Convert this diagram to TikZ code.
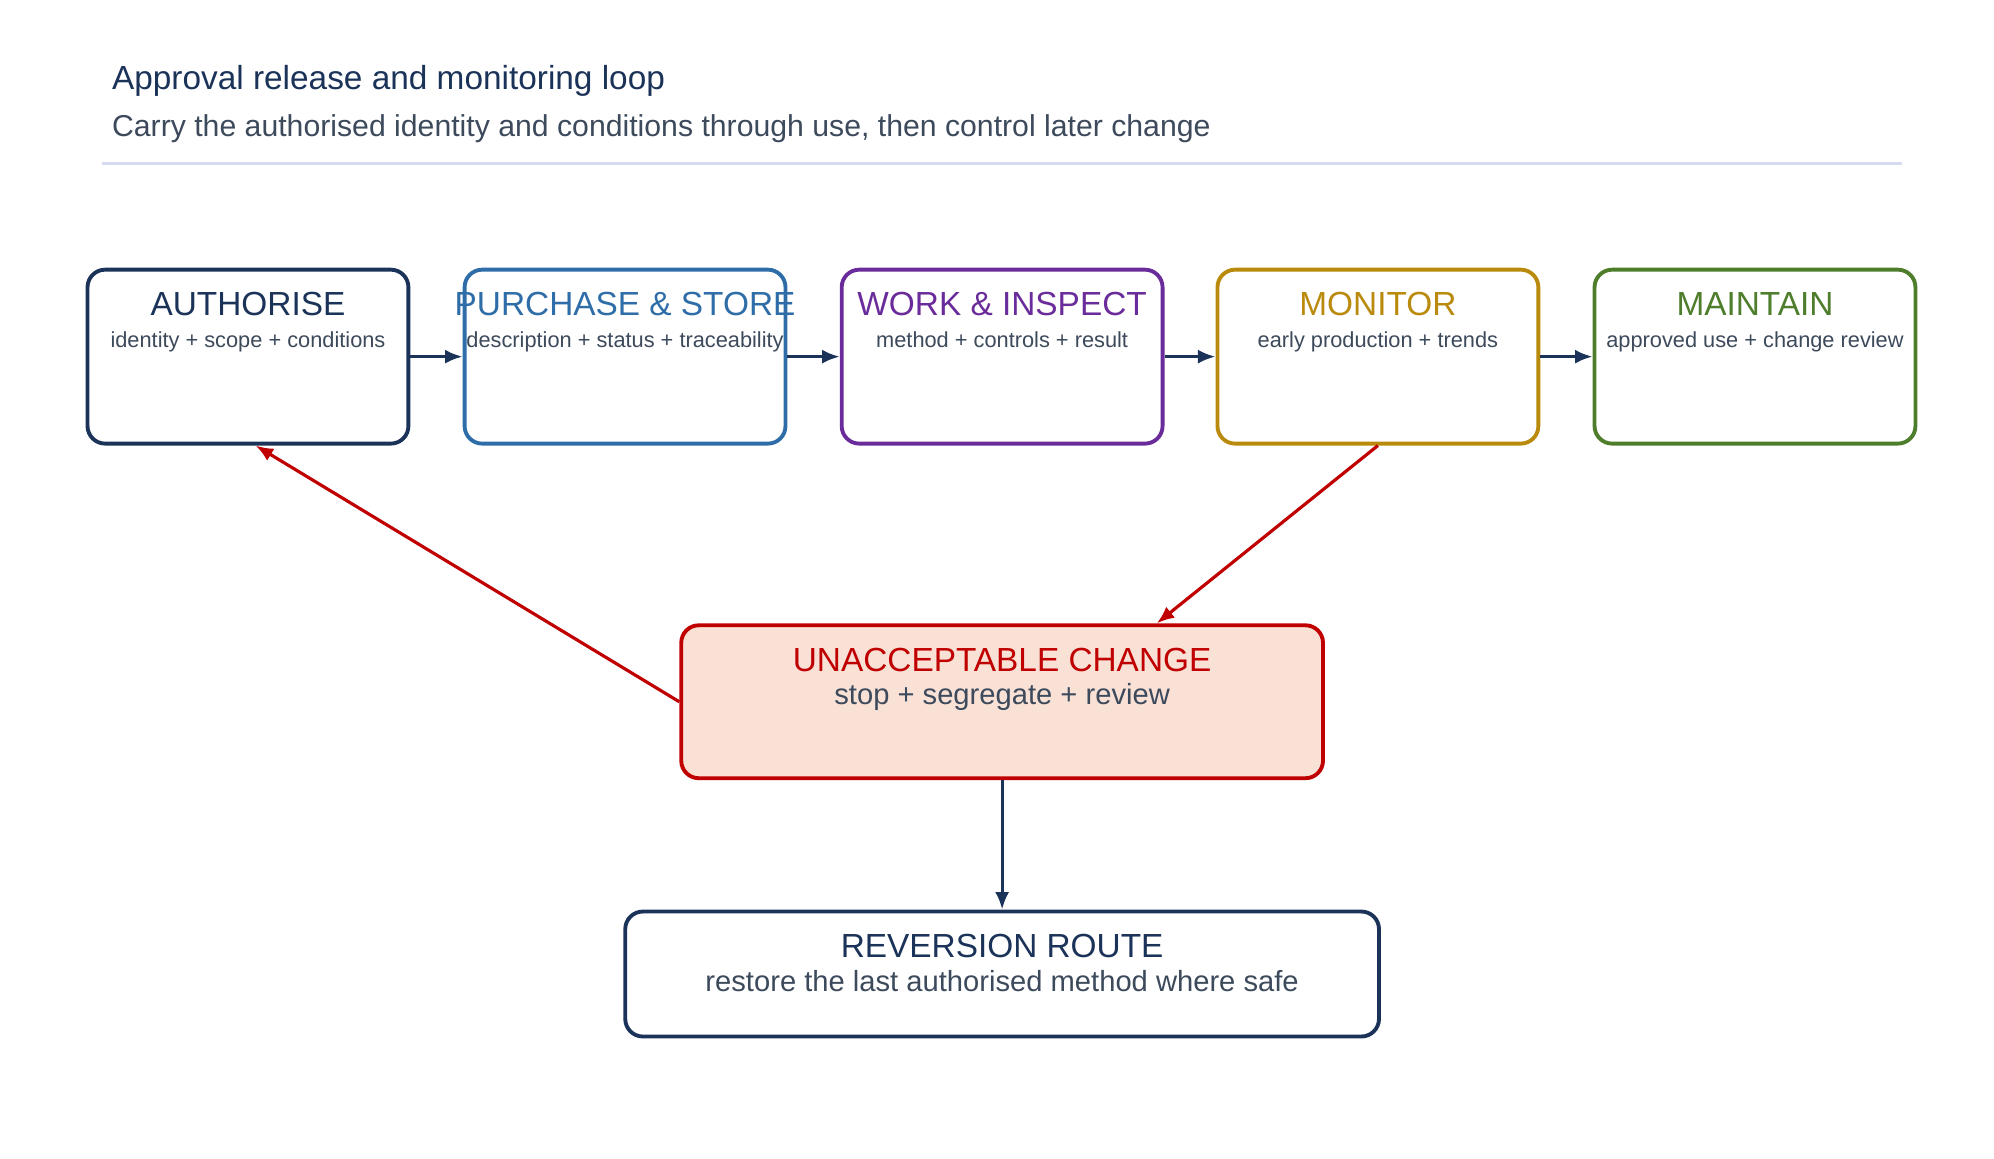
\documentclass[tikz,border=0pt]{standalone}
\usepackage{fontspec}
\setmainfont{Liberation Sans}
\usetikzlibrary{arrows.meta}
\definecolor{navy}{HTML}{1B3358}
\definecolor{slate}{HTML}{3D4A5C}
\definecolor{steel}{HTML}{2E6DA8}
\definecolor{violet}{HTML}{6A2C9A}
\definecolor{ochre}{HTML}{B98A0C}
\definecolor{moss}{HTML}{4E7D2C}
\definecolor{alarm}{HTML}{C00000}
\definecolor{blush}{HTML}{F9E1D6}
\definecolor{rulecol}{HTML}{D5DCF2}
\tikzset{
  stage/.style={draw=#1, line width=1.1pt, rounded corners=5pt, fill=white,
    minimum width=3.21cm, minimum height=1.74cm, inner sep=0pt},
  head/.style={font=\fontsize{9.5}{11}\selectfont, text=#1, anchor=north},
  sub/.style={font=\fontsize{6.2}{8}\selectfont, text=slate, anchor=north},
  flow/.style={-{Latex[length=5pt,width=4pt]}, line width=0.9pt, draw=navy},
  back/.style={-{Latex[length=5pt,width=4pt]}, line width=0.9pt, draw=alarm}
}
\begin{document}
\begin{tikzpicture}[x=0.01278cm, y=-0.01278cm]
\useasboundingbox (0,0) rectangle (1560,906);
% header
\node[anchor=west, text=navy, font=\fontsize{9.5}{11}\selectfont] (title) at (78,63) {Approval release and monitoring loop};
\node[anchor=west, text=slate, font=\fontsize{8.6}{10}\selectfont] (subtitle) at (78,101) {Carry the authorised identity and conditions through use, then control later change};
\draw[rulecol, line width=0.8pt] (80,128) -- (1488,128);
% top row
\foreach \x/\name/\col/\txt/\desc in {
  194/auth/navy/AUTHORISE/identity + scope + conditions,
  489/store/steel/PURCHASE \& STORE/description + status + traceability,
  784/work/violet/WORK \& INSPECT/method + controls + result,
  1078/mon/ochre/MONITOR/early production + trends,
  1373/maint/moss/MAINTAIN/approved use + change review} {
  \node[stage=\col] (\name) at (\x,279) {};
  \node[head=\col] (\name-h) at ([yshift=-0.12cm]\name.north) {\txt};
  \node[sub] (\name-s) at ([yshift=-0.52cm]\name.north) {\desc};
}
\node[sub, font=\fontsize{5.6}{7}\selectfont] at ([yshift=-0.55cm]store.north) {};
% lower boxes
\node[stage=alarm, fill=blush, minimum width=6.42cm, minimum height=1.53cm] (change) at (784,549) {};
\node[head=alarm] (change-h) at ([yshift=-0.12cm]change.north) {UNACCEPTABLE CHANGE};
\node[sub, font=\fontsize{8.3}{10}\selectfont] (change-s) at ([yshift=-0.48cm]change.north) {stop + segregate + review};
\node[stage=navy, minimum width=7.54cm, minimum height=1.25cm] (revert) at (784,762) {};
\node[head=navy] (revert-h) at ([yshift=-0.12cm]revert.north) {REVERSION ROUTE};
\node[sub, font=\fontsize{8.3}{10}\selectfont] (revert-s) at ([yshift=-0.48cm]revert.north) {restore the last authorised method where safe};
% connectors
\draw[flow] (auth) -- (store);
\draw[flow] (store) -- (work);
\draw[flow] (work) -- (mon);
\draw[flow] (mon) -- (maint);
\draw[back] (mon.south) -- (change.north -| 905,0);
\draw[back] (change.west) -- (auth.south -| 200,0);
\draw[flow] (change) -- (revert);
\end{tikzpicture}
\end{document}
